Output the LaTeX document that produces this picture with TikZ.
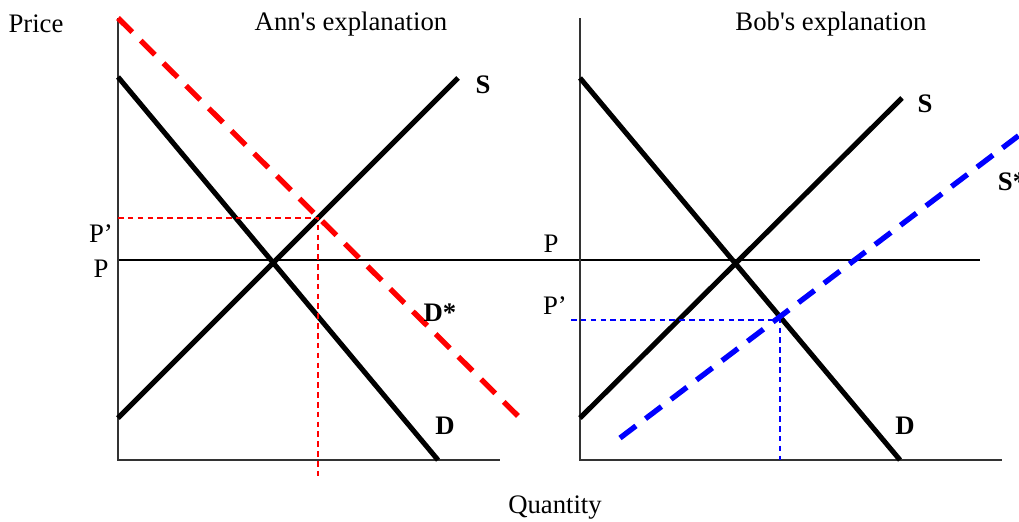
\documentclass[tikz,border=0pt]{standalone}
\usepackage{fontspec}
\setmainfont{Liberation Serif}
\usepackage{tikz}
\usetikzlibrary{calc, positioning, arrows.meta}
\usepackage{xcolor}
\definecolor{shiftA}{RGB}{255, 0, 0}
\definecolor{shiftB}{RGB}{0, 0, 255}

\tikzset{
  axis/.style={line width=1.6pt, black!80},
  curve/.style={line width=3.6pt, black},
  shifted/.style={line width=3.8pt, dash pattern=on 0.5cm off 0.3cm},
  guide/.style={line width=0.9pt, dash pattern=on 4pt off 3pt},
  lbl/.style={inner sep=0pt, font=\fontsize{19}{22}\selectfont},
  curvelbl/.style={inner sep=0pt, font=\fontsize{19}{22}\selectfont\bfseries}
}

\begin{document}
\begin{tikzpicture}[x=0.025cm, y=-0.025cm, >=Stealth]
  \useasboundingbox (0,0) rectangle (1019,521);

  % common price line
  \coordinate (pA) at (118,260);
  \coordinate (pB) at (980,260);
  \draw[line width=1.2pt] (pA) -- (pB);

  % Ann's axes
  \coordinate (oA) at (118,460);
  \coordinate (yA) at (118,18);
  \coordinate (xA) at (500,460);
  \draw[axis] (yA) -- (oA) -- (xA);
  \node[lbl] (price) at (36,24) {Price};
  \node[lbl] (titleA) at (351,24) {Ann\textquotesingle s explanation};

  % Ann's curves
  \coordinate (dA1) at (118,77);
  \coordinate (dA2) at (438,460);
  \coordinate (sA1) at (118,418);
  \coordinate (sA2) at (458,78);
  \coordinate (dsA1) at (118,18);
  \coordinate (dsA2) at (520,418);
  \draw[curve] (dA1) -- (dA2);
  \draw[curve] (sA1) -- (sA2);
  \draw[shifted, shiftA] (dsA1) -- (dsA2);

  % Ann's new price
  \coordinate (eA) at (318,218);
  \coordinate (pqA) at (118,218);
  \coordinate (qA) at (318,480);
  \draw[guide, shiftA] (pqA) -- (eA) -- (qA);

  \node[lbl] (ppA) at (101,234) {P’};
  \node[lbl] (pLA) at (101,269) {P};
  \node[curvelbl] (sLA) at (483,85) {S};
  \node[curvelbl] (dsLA) at (440,313) {D*};
  \node[curvelbl] (dLA) at (445,426) {D};

  % Bob's axes
  \coordinate (oB) at (580,460);
  \coordinate (yB) at (580,18);
  \coordinate (xB) at (1002,460);
  \draw[axis] (yB) -- (oB) -- (xB);
  \node[lbl] (titleB) at (831,24) {Bob\textquotesingle s explanation};

  % Bob's curves
  \coordinate (dB1) at (580,78);
  \coordinate (dB2) at (900,460);
  \coordinate (sB1) at (580,418);
  \coordinate (sB2) at (902,98);
  \coordinate (ssB1) at (620,438);
  \coordinate (ssB2) at (1030,127);
  \draw[curve] (dB1) -- (dB2);
  \draw[curve] (sB1) -- (sB2);
  \draw[shifted, shiftB] (ssB1) -- (ssB2);

  % Bob's new price
  \coordinate (eB) at (780,320);
  \coordinate (pqB) at (571,320);
  \coordinate (qB) at (780,460);
  \draw[guide, shiftB] (pqB) -- (eB) -- (qB);

  \node[lbl] (pLB) at (551,244) {P};
  \node[lbl] (ppB) at (555,306) {P’};
  \node[curvelbl] (sLB) at (925,104) {S};
  \node[curvelbl] (ssLB) at (1012,182) {S*};
  \node[curvelbl] (dLB) at (905,426) {D};

  \node[lbl] (qty) at (555,508) {Quantity};
\end{tikzpicture}
\end{document}
